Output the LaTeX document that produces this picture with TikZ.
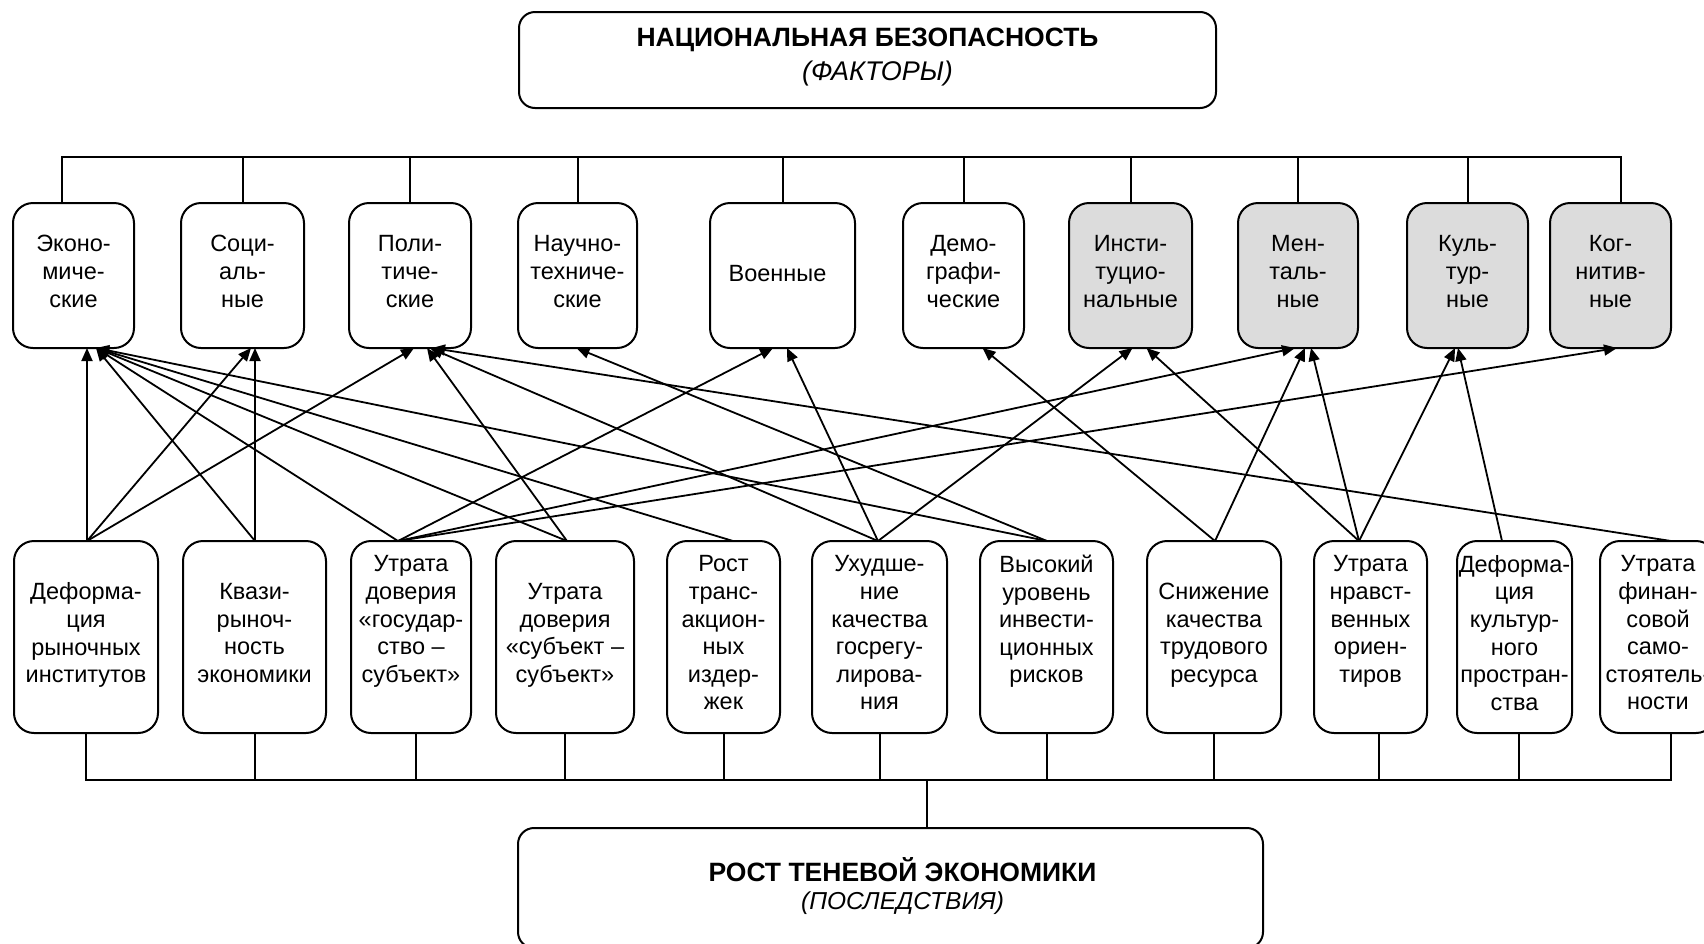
\documentclass[tikz,border=0pt]{standalone}
\usepackage{fontspec}
\setmainfont{Liberation Sans}
\usetikzlibrary{arrows.meta}
\definecolor{boxgray}{RGB}{220,220,220}
\begin{document}
\begin{tikzpicture}[x=1pt,y=-1pt,
  every node/.style={inner sep=0pt, outer sep=0pt},
  bx/.style={draw, line width=2pt, rounded corners=20pt, align=center,
    font=\fontsize{23.5}{27.6}\selectfont,
    execute at begin node=\strut, execute at end node=\strut},
  topbx/.style={bx, minimum height=145pt},
  botbx/.style={bx, minimum height=192pt},
  grayfill/.style={fill=boxgray},
  mainbx/.style={draw, line width=2pt, rounded corners=16pt,
    font=\fontsize{24.5}{30}\selectfont},
  conn/.style={line width=2pt},
  arr/.style={line width=1.8pt, -{Triangle[length=13pt,width=11pt]}},
]
\useasboundingbox (0,0) rectangle (1704,943);

% main boxes
\node[mainbx, minimum width=697pt, minimum height=96pt] (tm) at (867.5,60)
  {\raisebox{2.5pt}[\height][\depth]{\begin{tabular}{@{}c@{}}%
   {\fontsize{26.5}{30}\selectfont\bfseries НАЦИОНАЛЬНАЯ БЕЗОПАСНОСТЬ}\\[3.5pt]%
   \hspace*{20pt}{\fontsize{27}{30}\selectfont\itshape (ФАКТОРЫ)}\end{tabular}}};
\node[mainbx, minimum width=745pt, minimum height=120pt] (bm) at (890.5,888)
  {\begin{tabular}{@{\hspace{24pt}}c@{}}%
   {\fontsize{26.5}{30}\selectfont\bfseries РОСТ ТЕНЕВОЙ ЭКОНОМИКИ}\\[-2pt]%
   {\itshape (ПОСЛЕДСТВИЯ)}\end{tabular}};

% factor boxes
\node[topbx, minimum width=121pt] (t1) at (73.5,275.5) {Эконо-\\миче-\\ские};
\node[topbx, minimum width=123pt] (t2) at (242.5,275.5) {Соци-\\аль-\\ные};
\node[topbx, minimum width=122pt] (t3) at (410,275.5) {Поли-\\тиче-\\ские};
\node[topbx, minimum width=119pt] (t4) at (577.5,275.5) {Научно-\\техниче-\\ские};
\node[topbx, minimum width=145pt] (t5) at (782.5,275.5) {\hspace*{-10pt}Военные};
\node[topbx, minimum width=121pt] (t6) at (963.5,275.5) {Демо-\\графи-\\ческие};
\node[topbx, grayfill, minimum width=123pt] (t7) at (1130.5,275.5) {Инсти-\\туцио-\\нальные};
\node[topbx, grayfill, minimum width=120pt] (t8) at (1298,275.5) {Мен-\\таль-\\ные};
\node[topbx, grayfill, minimum width=121pt] (t9) at (1467.5,275.5) {Куль-\\тур-\\ные};
\node[topbx, grayfill, minimum width=121pt] (t10) at (1610.5,275.5) {Ког-\\нитив-\\ные};

% consequence boxes
\node[botbx, minimum width=144pt] (b1) at (86,637) {Деформа-\\ция\\рыночных\\институтов};
\node[botbx, minimum width=143pt] (b2) at (254.5,637) {Квази-\\рыноч-\\ность\\экономики};
\node[botbx, minimum width=120pt] (b3) at (411,637) {Утрата\\доверия\\«государ-\\ство –\\субъект»\\};
\node[botbx, minimum width=138pt] (b4) at (565,637) {Утрата\\доверия\\«субъект –\\субъект»};
\node[botbx, minimum width=113pt] (b5) at (723.5,637) {Рост\\транс-\\акцион-\\ных\\издер-\\жек};
\node[botbx, minimum width=135pt] (b6) at (879.5,637) {Ухудше-\\ние\\качества\\госрегу-\\лирова-\\ния};
\node[botbx, minimum width=133pt] (b7) at (1046.5,637) {Высокий\\уровень\\инвести-\\ционных\\рисков\\};
\node[botbx, minimum width=134pt] (b8) at (1214,637) {Снижение\\качества\\трудового\\ресурса};
\node[botbx, minimum width=113pt] (b9) at (1370.5,637) {Утрата\\нравст-\\венных\\ориен-\\тиров\\};
\node[botbx, minimum width=115pt] (b10) at (1514.5,637) {Деформа-\\ция\\культур-\\ного\\простран-\\ства};
\node[botbx, minimum width=116pt] (b11) at (1658,637) {Утрата\\финан-\\совой\\само-\\стоятель-\\ности};

% buses
\coordinate (topbus) at (0,157);
\coordinate (botbus) at (0,780);
\draw[conn] ([xshift=-11.5pt]t1.north) |- ([xshift=10.5pt]t10.north |- topbus) -- ([xshift=10.5pt]t10.north);
\foreach \n in {t2,t3,t4,t5,t6,t7,t8,t9}
  \draw[conn] (\n.north) -- (\n.north |- topbus);

\draw[conn] (b1.south) |- ([xshift=13pt]b11.south |- botbus) -- ([xshift=13pt]b11.south);
\foreach \n/\d in {b2/0,b3/5,b4/0,b5/0,b6/0,b7/0,b8/0,b9/8,b10/4}
  \draw[conn] ([xshift=\d pt]\n.south) -- ([xshift=\d pt]\n.south |- botbus);
\draw[conn] ([xshift=36.5pt]bm.north |- botbus) -- ([xshift=36.5pt]bm.north);

% influence arrows
\draw[arr] ([xshift=1pt]b1.north) -- ([xshift=13.5pt]t1.south);
\draw[arr] ([xshift=1pt]b1.north) -- ([xshift=8.5pt]t2.south);
\draw[arr] ([xshift=1pt]b1.north) -- ([xshift=4pt]t3.south);
\draw[arr] ([xshift=0.5pt]b2.north) -- ([xshift=22.5pt]t1.south);
\draw[arr] ([xshift=0.5pt]b2.north) -- ([xshift=12.5pt]t2.south);
\draw[arr] ([xshift=-13pt]b3.north) -- ([xshift=22.5pt]t1.south);
\draw[arr] ([xshift=-13pt]b3.north) -- ([xshift=-9.5pt]t5.south);
\draw[arr] ([xshift=-13pt]b3.north) -- ([xshift=-3pt]t8.south);
\draw[arr] ([xshift=-13pt]b3.north) -- ([xshift=6.5pt]t10.south);
\draw[arr] ([xshift=2pt]b4.north) -- ([xshift=22.5pt]t1.south);
\draw[arr] ([xshift=2pt]b4.north) -- ([xshift=17pt]t3.south);
\draw[arr] ([xshift=9.5pt]b5.north) -- ([xshift=22.5pt]t1.south);
\draw[arr] ([xshift=-1.5pt]b6.north) -- ([xshift=20pt]t3.south);
\draw[arr] ([xshift=-1.5pt]b6.north) -- ([xshift=4.5pt]t5.south);
\draw[arr] ([xshift=-1.5pt]b6.north) -- ([xshift=2pt]t7.south);
\draw[arr] ([xshift=0.5pt]b7.north) -- ([xshift=22.5pt]t1.south);
\draw[arr] ([xshift=0.5pt]b7.north) -- ([xshift=-1pt]t4.south);
\draw[arr] ([xshift=1pt]b8.north) -- ([xshift=19pt]t6.south);
\draw[arr] ([xshift=1pt]b8.north) -- ([xshift=7pt]t8.south);
\draw[arr] ([xshift=-11.5pt]b9.north) -- ([xshift=16pt]t7.south);
\draw[arr] ([xshift=-11.5pt]b9.north) -- ([xshift=13pt]t8.south);
\draw[arr] ([xshift=-11.5pt]b9.north) -- ([xshift=-12.5pt]t9.south);
\draw[arr] ([xshift=-12.5pt]b10.north) -- ([xshift=-9.5pt]t9.south);
\draw[arr] ([xshift=13pt]b11.north) -- ([xshift=22pt]t3.south);
\end{tikzpicture}
\end{document}
